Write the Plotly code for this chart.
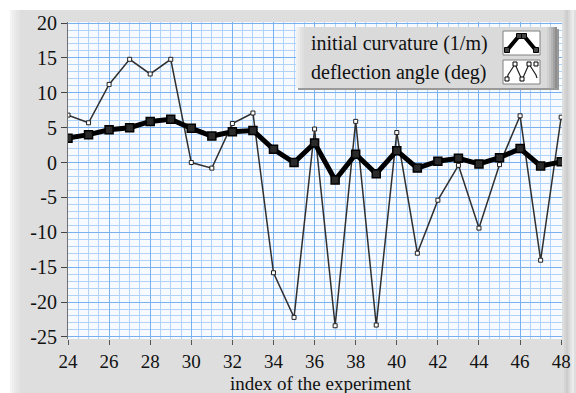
import plotly.graph_objects as go

# Experiment indices
experiment = list(range(24, 49))

# Initial curvature (1/m)
curvature = [3.5, 4.0, 4.7, 5.0, 5.9, 6.2, 4.9, 3.8, 4.4, 4.6, 1.9, 0.0, 2.8,
             -2.5, 1.2, -1.6, 1.7, -0.8, 0.2, 0.6, -0.2, 0.7, 2.0, -0.5, 0.1]

# Deflection angle (deg)
deflection = [6.8, 5.7, 11.2, 14.8, 12.7, 14.8, 0.0, -0.8, 5.6, 7.1, -15.8,
              -22.2, 4.8, -23.4, 5.9, -23.3, 4.3, -13.0, -5.4, -0.4, -9.4,
              -0.3, 6.7, -14.0, 6.5]

x_ticks = [24, 26, 28, 30, 32, 34, 36, 38, 40, 42, 44, 46, 48]
y_ticks = [20, 15, 10, 5, 0, -5, -10, -15, -20, -25]
y_tick_text = ["20", "15", "10", "5", "0", "-5", "-10", "-15", "-20", "-25"]

legend_labels = ["initial curvature (1/m)", "deflection angle (deg)"]
x_title = "index of the experiment"

W, H = 576, 393
ML, MR, MT, MB = 68, 14, 22, 54
PW, PH = W - ML - MR, H - MT - MB


def px(x):
    """Pixel x -> paper x."""
    return (x - ML) / PW


def py(y):
    """Pixel y (from top) -> paper y."""
    return (H - MB - y) / PH


SERIF = "Liberation Serif, Times New Roman, serif"

fig = go.Figure()

fig.add_trace(go.Scatter(
    x=experiment, y=deflection, mode="lines+markers",
    line=dict(color="#303030", width=1.5),
    marker=dict(symbol="square", size=4, color="white",
                line=dict(color="#202020", width=1)),
    showlegend=False,
))
fig.add_trace(go.Scatter(
    x=experiment, y=curvature, mode="lines+markers",
    line=dict(color="#000000", width=5),
    marker=dict(symbol="square", size=8, color="#2a2a2a",
                line=dict(color="#000000", width=1.5)),
    showlegend=False,
))

shapes = []
# white outer border strips
shapes.append(dict(type="rect", xref="paper", yref="paper", x0=px(0), x1=px(W),
                   y0=py(10), y1=py(0), fillcolor="white", line_width=0, layer="below"))
shapes.append(dict(type="rect", xref="paper", yref="paper", x0=px(0), x1=px(10),
                   y0=py(H), y1=py(0), fillcolor="white", line_width=0, layer="below"))
# soft highlight along the left edge of the panel
for i, c in enumerate(["#f4f4f4", "#efefef", "#eaeaea", "#e6e6e6", "#e3e3e3"]):
    shapes.append(dict(type="rect", xref="paper", yref="paper",
                       x0=px(10 + i * 2), x1=px(12 + i * 2), y0=py(H), y1=py(10),
                       fillcolor=c, line_width=0, layer="below"))
# slight shading on the right edge of the panel
for i, c in enumerate(["#d4d4d4", "#cdcdcd", "#d6d6d6", "#e4e4e4", "#ececec"]):
    shapes.append(dict(type="rect", xref="paper", yref="paper",
                       x0=px(564 + i * 2), x1=px(566 + i * 2), y0=py(H), y1=py(10),
                       fillcolor=c, line_width=0, layer="below"))

# legend panel
LX0, LX1, LY0, LY1 = 296, 557, 27, 88
shapes.append(dict(type="rect", xref="paper", yref="paper", x0=px(LX0 + 2), x1=px(LX1 + 2),
                   y0=py(LY1 + 2), y1=py(LY0 + 2), fillcolor="#9a9a9a", line_width=0))
shapes.append(dict(type="rect", xref="paper", yref="paper", x0=px(LX0), x1=px(LX1),
                   y0=py(LY1), y1=py(LY0), fillcolor="#dadada", line_width=0))
for i, c in enumerate(["#f2f2f2", "#ebebeb", "#e4e4e4", "#dfdfdf"]):
    shapes.append(dict(type="rect", xref="paper", yref="paper",
                       x0=px(LX0 + i * 2), x1=px(LX0 + 2 + i * 2), y0=py(LY1), y1=py(LY0),
                       fillcolor=c, line_width=0))
for i, c in enumerate(["#d0d0d0", "#c4c4c4", "#b4b4b4", "#a2a2a2", "#8e8e8e"]):
    shapes.append(dict(type="rect", xref="paper", yref="paper",
                       x0=px(LX1 - 10 + i * 2), x1=px(LX1 - 8 + i * 2), y0=py(LY1), y1=py(LY0),
                       fillcolor=c, line_width=0))

# legend icon boxes
for (y0, y1) in [(31, 55), (60, 84)]:
    shapes.append(dict(type="rect", xref="paper", yref="paper", x0=px(503), x1=px(540),
                       y0=py(y1), y1=py(y0), fillcolor="white",
                       line=dict(color="#808080", width=1)))


def path(points):
    return "M " + " L ".join(f"{px(a):.5f},{py(b):.5f}" for a, b in points)


# icon: thick line with square markers
shapes.append(dict(type="path", xref="paper", yref="paper",
                   path=path([(507, 50), (509, 48), (519, 36), (524, 36), (534, 48), (536, 50)]),
                   line=dict(color="black", width=4)))
for (a, b) in [(507, 50), (519, 36), (524, 36), (536, 50)]:
    shapes.append(dict(type="rect", xref="paper", yref="paper",
                       x0=px(a - 2.5), x1=px(a + 2.5), y0=py(b + 2.5), y1=py(b - 2.5),
                       fillcolor="#444", line=dict(color="black", width=1)))
# icon: zigzag thin line with small open squares
zig = [(507, 80), (508, 75), (515, 64), (522, 80), (529, 64), (536, 75), (537, 78)]
shapes.append(dict(type="path", xref="paper", yref="paper", path=path(zig),
                   line=dict(color="#202020", width=1.2)))
for (a, b) in [(507, 79), (515, 64), (522, 79), (529, 64), (536, 64)]:
    shapes.append(dict(type="rect", xref="paper", yref="paper",
                       x0=px(a - 2), x1=px(a + 2), y0=py(b + 2), y1=py(b - 2),
                       fillcolor="white", line=dict(color="black", width=1)))

annotations = []
for label, yc in zip(legend_labels, [43, 72]):
    annotations.append(dict(text=label, xref="paper", yref="paper", x=px(309), y=py(yc),
                            xanchor="left", yanchor="middle", showarrow=False,
                            font=dict(family=SERIF, size=20, color="#111111")))
# x-axis title
annotations.append(dict(text=x_title, xref="paper", yref="paper", x=px(321), y=py(383),
                        xanchor="center", yanchor="middle", showarrow=False,
                        font=dict(family=SERIF, size=19, color="#111111")))

fig.update_layout(
    width=W, height=H,
    margin=dict(l=ML, r=MR, t=MT, b=MB, autoexpand=False),
    paper_bgcolor="#dedede",
    plot_bgcolor="#f7faff",
    shapes=shapes,
    annotations=annotations,
    font=dict(family=SERIF, color="#111111"),
)

fig.update_xaxes(
    range=[24, 48.04], tickvals=x_ticks, ticktext=[str(v) for v in x_ticks],
    showgrid=True, gridcolor="#78b0f0", gridwidth=1,
    minor=dict(dtick=0.5, tick0=24, showgrid=True, gridcolor="#b2d3f8", gridwidth=1),
    ticks="outside", ticklen=5, tickcolor="#555555", tickwidth=1,
    tickfont=dict(family=SERIF, size=19, color="#111111"),
    showline=False, zeroline=False,
)
fig.update_yaxes(
    range=[-25.3, 20.15], tickvals=y_ticks, ticktext=y_tick_text,
    showgrid=True, gridcolor="#78b0f0", gridwidth=1,
    minor=dict(dtick=1, tick0=0, showgrid=True, gridcolor="#b2d3f8", gridwidth=1),
    ticks="outside", ticklen=6, tickcolor="#444444", tickwidth=1,
    tickfont=dict(family=SERIF, size=20, color="#111111"),
    showline=True, linecolor="#707070", linewidth=1, zeroline=False,
)

fig.write_html("out.html")
